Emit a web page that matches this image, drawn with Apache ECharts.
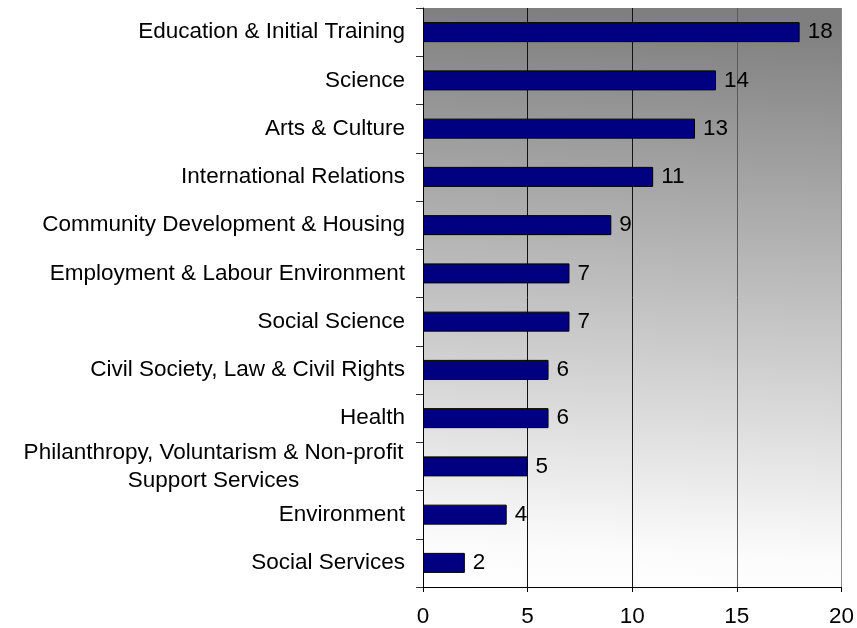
<!DOCTYPE html>
<html>
<head>
<meta charset="utf-8">
<script src="https://cdn.jsdelivr.net/npm/echarts@6/dist/echarts.min.js"></script>
<style>
  html, body { margin: 0; padding: 0; background: #fff; }
  #chart { width: 857px; height: 628px; }
</style>
</head>
<body>
<div id="chart"></div>
<script>
// categories, top to bottom as shown
var categories = [
  'Education & Initial Training',
  'Science',
  'Arts & Culture',
  'International Relations',
  'Community Development & Housing',
  'Employment & Labour Environment',
  'Social Science',
  'Civil Society, Law & Civil Rights',
  'Health',
  'Philanthropy, Voluntarism & Non-profit\nSupport Services',
  'Environment',
  'Social Services'
];
var counts = [18, 14, 13, 11, 9, 7, 7, 6, 6, 5, 4, 2];
var xTicks = [0, 5, 10, 15, 20];

var font = 'Liberation Sans, Arial, sans-serif';
var fs = 22.5;
var chart = echarts.init(document.getElementById('chart'));

chart.setOption({
  animation: false,
  grid: {
    left: 423, right: 14, top: 8, bottom: 40,
    show: true,
    borderWidth: 0,
    backgroundColor: new echarts.graphic.LinearGradient(0, 1, 0.06, 0, [
      { offset: 0, color: '#ffffff' },
      { offset: 0.08, color: '#fbfbfb' },
      { offset: 1, color: '#7f7f7f' }
    ])
  },
  xAxis: {
    type: 'value',
    min: xTicks[0],
    max: xTicks[xTicks.length - 1],
    interval: 5,
    axisLine: { show: true, lineStyle: { color: '#000', width: 1 } },
    axisTick: { show: true, length: 5, lineStyle: { color: '#000' } },
    axisLabel: { color: '#000', fontSize: fs, fontFamily: font, margin: 18 },
    splitLine: {
      show: true,
      lineStyle: { color: ['#000', '#111', '#111', '#5a5a5a', '#8a8a8a'], width: 1 }
    }
  },
  yAxis: {
    type: 'category',
    inverse: true,
    data: categories,
    axisLine: { show: true, lineStyle: { color: '#000', width: 1 } },
    axisTick: { show: true, length: 7, lineStyle: { color: '#333' } },
    axisLabel: {
      color: '#000',
      fontSize: fs,
      fontFamily: font,
      margin: 18,
      formatter: function (v) {
        if (v.indexOf('\n') >= 0) {
          return v.split('\n').map(function (s) { return '{c|' + s + '}'; }).join('\n');
        }
        return v;
      },
      rich: {
        c: { fontSize: fs, fontFamily: font, color: '#000', width: 383, align: 'center', lineHeight: 28 }
      }
    },
    splitLine: { show: false }
  },
  series: [{
    type: 'bar',
    data: counts,
    barWidth: 20,
    itemStyle: { color: '#000080', borderColor: '#000', borderWidth: 1 },
    label: {
      show: true,
      position: 'right',
      distance: 8,
      color: '#000',
      fontSize: fs,
      fontFamily: font
    }
  }]
});
</script>
</body>
</html>
